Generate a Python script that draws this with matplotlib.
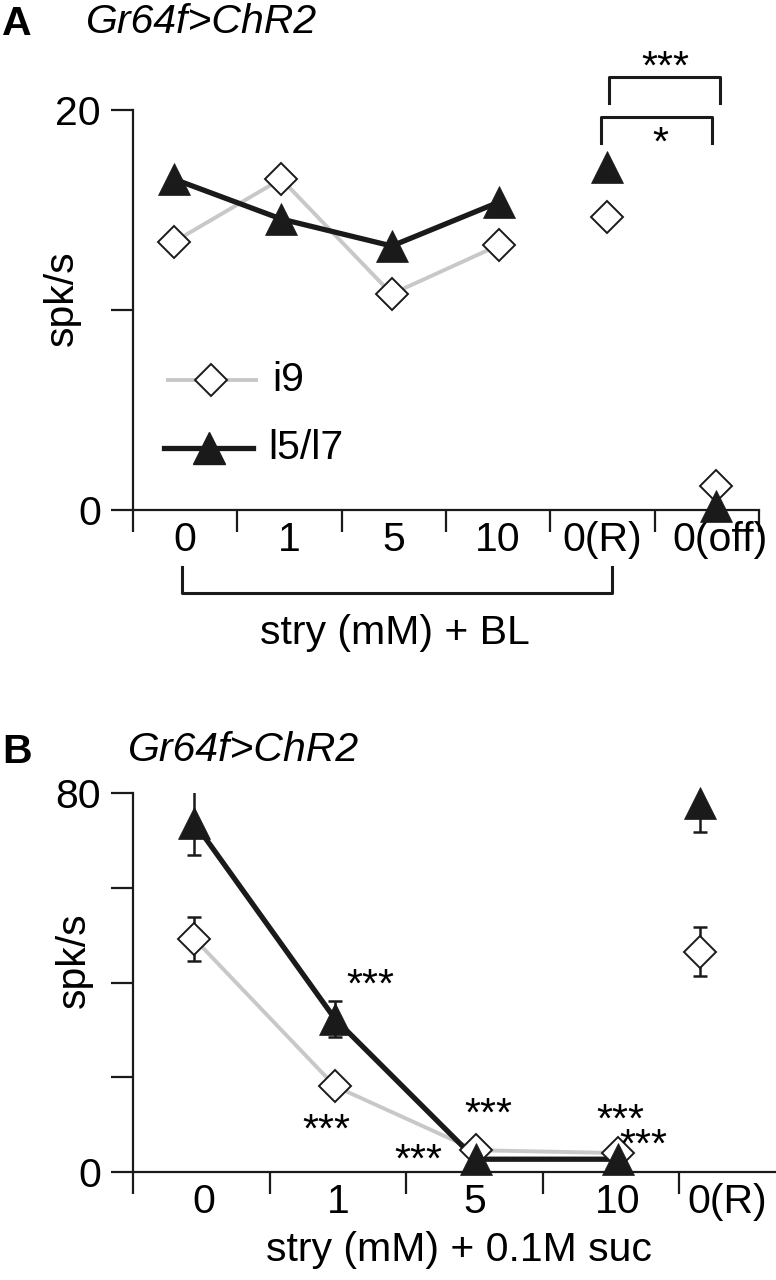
import matplotlib
matplotlib.use('Agg')
import matplotlib.pyplot as plt

plt.rcParams['font.family'] = ['Liberation Sans', 'DejaVu Sans']
FS = 29.5

# ---------------- data ----------------
catsA = ['0', '1', '5', '10', '0(R)', '0(off)']
i9_A = [13.4, 16.55, 10.8, 13.25, 14.65, 1.2]
l57_A = [16.55, 14.55, 13.2, 15.4, 17.15, 0.2]

catsB = ['0', '1', '5', '10', '0(R)']
i9_B = [49.2, 18.1, 4.6, 4.0, 46.5]
i9_B_err = [4.6, 1.0, 0.5, 0.5, 5.2]
l57_B = [73.7, 32.3, 2.7, 2.7, 77.8]
l57_B_err = [6.7, 3.9, 0.5, 0.5, 6.0]

# layout positions
xA_pts = [-0.11, 0.92, 1.98, 3.01, 4.04, 5.09]
xA_lab = [0, 1, 2, 3, 4, 5.13]
xA_ticks = [-0.5, 0.5, 1.5, 2.5, 3.5, 4.5, 5.5]
xB_pts = [-0.05, 0.98, 2.01, 3.05, 3.65]
xB_lab = [0.02, 1.0, 2.0, 3.05, 3.85]
xB_ticks = [-0.5, 0.5, 1.5, 2.5, 3.5]

BLACK = '#1a1a1a'
GRAY = '#c8c8c8'
W, H = 776, 1280

fig = plt.figure(figsize=(W / 100, H / 100), dpi=100)


def fx(px):
    return px / W


def fy(py):
    return 1 - py / H


def style_axes(ax):
    for s in ['top', 'right']:
        ax.spines[s].set_visible(False)
    for s in ['left', 'bottom']:
        ax.spines[s].set_linewidth(1.6)
        ax.spines[s].set_color(BLACK)
    ax.tick_params(axis='both', which='major', length=16, width=1.6,
                   color=BLACK, labelsize=FS, direction='out')
    ax.tick_params(axis='y', pad=7)
    ax.tick_params(axis='x', which='major', labelbottom=False)
    ax.tick_params(axis='x', which='minor', length=0, labelsize=FS, pad=8)


# ---------------- Panel A ----------------
axA = fig.add_axes([fx(133), fy(510), fx(759) - fx(133), fy(110) - fy(510)])
style_axes(axA)
axA.set_xlim(-0.5, 5.5)
axA.set_ylim(0, 20)
axA.set_yticks([0, 10, 20])
axA.set_yticklabels(['0', '', '20'])
axA.set_xticks(xA_ticks)
axA.set_xticks(xA_lab, minor=True)
axA.set_xticklabels(catsA, minor=True)

axA.plot(xA_pts[:4], i9_A[:4], color=GRAY, lw=2.8, zorder=2)
axA.plot(xA_pts[:4], l57_A[:4], color=BLACK, lw=3.8, zorder=3)
axA.plot(xA_pts, i9_A, ls='none', marker='D', ms=16.5, mfc='white',
         mec=BLACK, mew=1.4, zorder=4, clip_on=False)
axA.plot(xA_pts, l57_A, ls='none', marker='^', ms=23, mfc=BLACK,
         mec=BLACK, mew=0.5, zorder=5, clip_on=False)

# legend (manual)
axA.plot([-0.16, 0.675], [6.5, 6.5], color=GRAY, lw=2.8, zorder=2)
axA.plot([0.25], [6.5], marker='D', ms=16.5, mfc='white', mec=BLACK, mew=1.4, zorder=4)
axA.text(0.83, 6.5, 'i9', fontsize=FS, va='center', ha='left')
axA.plot([-0.2, 0.65], [3.1, 3.1], color=BLACK, lw=3.8, zorder=3)
axA.plot([0.225], [3.1], marker='^', ms=23, mfc=BLACK, mec=BLACK, zorder=5)
axA.text(0.8, 3.1, 'l5/l7', fontsize=FS, va='center', ha='left')

# significance brackets
axA.plot([4.06, 4.06, 5.13, 5.13], [20.35, 21.65, 21.65, 20.35], color=BLACK,
         lw=2.2, clip_on=False)
axA.text(4.6, 22.1, '***', fontsize=FS, ha='center', va='center')
axA.plot([3.99, 3.99, 5.05, 5.05], [18.35, 19.65, 19.65, 18.35], color=BLACK,
         lw=2.2, clip_on=False)
axA.text(4.55, 18.3, '*', fontsize=FS, ha='center', va='center')

# bottom bracket
axA.plot([-0.03, -0.03, 4.09, 4.09], [-2.85, -4.15, -4.15, -2.85], color=BLACK,
         lw=2.2, clip_on=False)
axA.text(2.01, -6.15, 'stry (mM) + BL', fontsize=FS, ha='center', va='center')

fig.text(fx(62), fy(298), 'spk/s', fontsize=FS, rotation=90, ha='center', va='center')
fig.text(fx(17), fy(24), 'A', fontsize=FS, fontweight='bold', ha='center', va='center')
fig.text(fx(86), fy(22), 'Gr64f>ChR2', fontsize=FS, style='italic', ha='left', va='center')

# ---------------- Panel B ----------------
axB = fig.add_axes([fx(133), fy(1172), 1 - fx(133), fy(793) - fy(1172)])
style_axes(axB)
axB.set_xlim(-0.5, 4.21)
axB.set_ylim(0, 80)
axB.set_yticks([0, 20, 40, 60, 80])
axB.set_yticklabels(['0', '', '', '', '80'])
axB.set_xticks(xB_ticks)
axB.set_xticks(xB_lab, minor=True)
axB.set_xticklabels(catsB, minor=True)

axB.plot(xB_pts[:4], i9_B[:4], color=GRAY, lw=2.8, zorder=2)
axB.plot(xB_pts[:4], l57_B[:4], color=BLACK, lw=3.8, zorder=3)
axB.errorbar(xB_pts, i9_B, yerr=i9_B_err, fmt='none', ecolor=BLACK,
             elinewidth=1.8, capsize=5, capthick=1.8, zorder=3.5)
axB.errorbar(xB_pts, l57_B, yerr=l57_B_err, fmt='none', ecolor=BLACK,
             elinewidth=1.8, capsize=5, capthick=1.8, zorder=3.5)
axB.plot(xB_pts, i9_B, ls='none', marker='D', ms=16.5, mfc='white',
         mec=BLACK, mew=1.4, zorder=4, clip_on=False)
axB.plot(xB_pts, l57_B, ls='none', marker='^', ms=23, mfc=BLACK,
         mec=BLACK, mew=0.5, zorder=5, clip_on=False)

stars_x = [1.24, 0.92, 1.59, 2.10, 3.07, 3.24]
stars_y = [40.9, 10.3, 3.8, 13.5, 12.4, 7.0]
for sx, sy in zip(stars_x, stars_y):
    axB.text(sx, sy - 1.5, '***', fontsize=FS, ha='center', va='center', zorder=6)

fig.text(fx(459), fy(1250), 'stry (mM) + 0.1M suc', fontsize=FS, ha='center', va='center')
fig.text(fx(74), fy(960), 'spk/s', fontsize=FS, rotation=90, ha='center', va='center')
fig.text(fx(17), fy(752), 'B', fontsize=FS, fontweight='bold', ha='center', va='center')
fig.text(fx(128), fy(750), 'Gr64f>ChR2', fontsize=FS, style='italic', ha='left', va='center')

fig.savefig('out.png', dpi=100)
